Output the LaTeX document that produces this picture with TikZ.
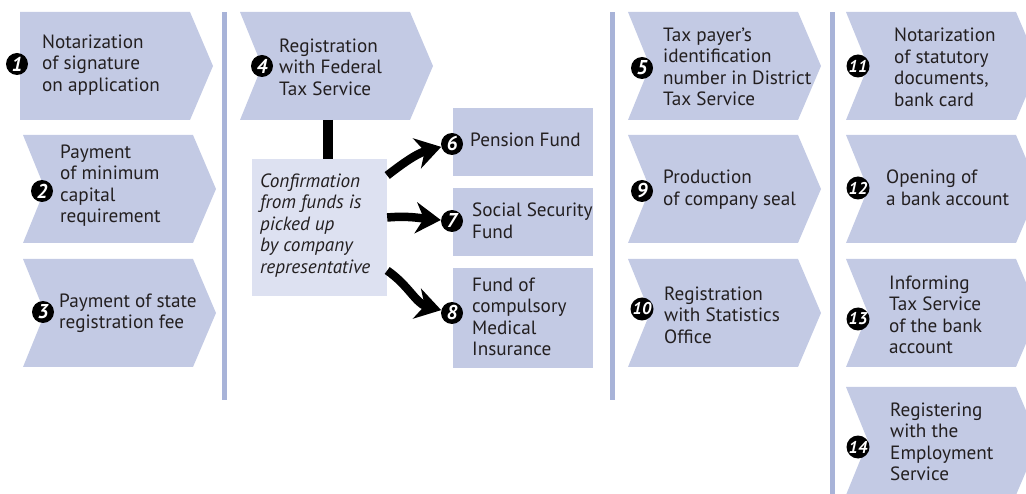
\documentclass[tikz,border=0pt]{standalone}
\usepackage{fontspec}
\setmainfont{PT Sans}
\usetikzlibrary{arrows.meta}
\definecolor{chevc}{RGB}{195,202,228}
\definecolor{confc}{RGB}{221,225,241}
\definecolor{barc}{RGB}{168,179,216}
\definecolor{txtc}{RGB}{35,31,32}
\tikzset{
 chev/.style={fill=chevc},
 txt/.style={anchor=west, inner sep=0pt, align=left, text=txtc, font=\fontsize{19.2}{21.5}\selectfont},
 itxt/.style={txt, font=\fontsize{19.2}{21.5}\selectfont\itshape},
 num/.style={circle, fill=black, text=white, inner sep=0pt, minimum size=22pt, font=\fontsize{20}{20}\selectfont\bfseries\itshape},
 num2/.style={num, minimum size=23pt, font=\fontsize{17}{17}\selectfont\bfseries\itshape},
 bar/.style={fill=barc},
 fundbox/.style={fill=chevc, inner sep=0pt, minimum width=140pt},
 bigarrow/.style={line width=8.5pt, -{Stealth[length=25pt,width=31pt,inset=8pt]}},
}
\newcommand\mychev[4]{\fill[chev] (#1,-#2) -- ({#1+170},-#2) -- ({#1+193},{-(#2+#3)/2}) -- ({#1+170},-#3) -- (#1,-#3) -- ({#1+#4},{-(#2+#3)/2}) -- cycle;}
\begin{document}
\begin{tikzpicture}[x=1pt,y=1pt]
\useasboundingbox (0,0) rectangle (1026,-494);
\clip (0,0) rectangle (1026,-494);
% vertical bars
\fill[bar] (222,-12) rectangle (227,-400);
\fill[bar] (610,-12) rectangle (615,-400);
\fill[bar] (830,-12) rectangle (835,-494);
% chevrons
\mychev{20}{12}{120}{0}
\mychev{23}{135}{243}{22}
\mychev{23}{259}{367}{22}
\mychev{240}{12}{120}{22}
\mychev{628}{12}{120}{22}
\mychev{628}{135}{243}{22}
\mychev{628}{259}{367}{22}
\mychev{846}{12}{120}{22}
\mychev{846}{135}{243}{22}
\mychev{846}{259}{367}{22}
\mychev{846}{387}{495}{22}
% texts in chevrons
\node[txt] (t1) at (42,-65) {Notarization\\of signature\\on application};
\node[txt] (t2) at (60,-185.5) {Payment\\of minimum\\capital\\requirement};
\node[txt] (t3) at (59,-313) {Payment of state\\registration fee};
\node[txt] (t4) at (279,-67) {Registration\\with Federal\\Tax Service};
\node[txt] (t5) at (663,-67) {Tax payer’s\\identification\\number in District\\Tax Service};
\node[txt] (t9) at (663,-189.5) {Production\\of company seal};
\node[txt] (t10) at (664,-315) {Registration\\with Statistics\\Office};
\node[txt] (t11) at (894,-67.5) {Notarization\\of statutory\\documents,\\bank card};
\node[txt] (t12) at (886,-188) {Opening of\\a bank account};
\node[txt] (t13) at (889,-315) {Informing\\Tax Service\\of the bank\\account};
\node[txt] (t14) at (890,-442) {Registering\\with the\\Employment\\Service};
% confirmation box
\node[fill=confc, minimum width=135pt, minimum height=137pt, inner sep=0pt] (confbox) at (319.5,-227.5) {};
\node[itxt] (conftxt) at (260,-225.5) {Confirmation\\from funds is\\picked up\\by company\\representative};
\coordinate (c4) at (328,-120);
\draw[line width=10pt, black] (c4) -- (c4 |- confbox.north);
% fund boxes
\node[fundbox, minimum height=68pt] (b6) at (523,-142) {};
\node[fundbox, minimum height=68pt] (b7) at (523,-222) {};
\node[fundbox, minimum height=100pt] (b8) at (523,-318) {};
\node[txt] (t6) at (470,-140) {Pension Fund};
\node[txt] (t7) at (472,-221) {Social Security\\Fund};
\node[txt] (t8) at (472,-317) {Fund of\\compulsory\\Medical\\Insurance};
% number badges
\node[num] (n6) at (452,-144) {6};
\node[num] (n7) at (452,-221) {7};
\node[num] (n8) at (452,-313) {8};
% arrows
\draw[bigarrow] ([yshift=52pt]confbox.east) to[out=38,in=195] (n6);
\draw[bigarrow] ([yshift=10pt]confbox.east) to[out=5,in=175] (n7);
\draw[bigarrow] ([yshift=-43pt]confbox.east) to[out=-35,in=165] (n8);
\node[num] (n1) at (17,-64) {1};
\node[num] (n2) at (42,-191) {2};
\node[num] (n3) at (43,-312) {3};
\node[num] (n4) at (262,-66) {4};
\node[num] (n5) at (642,-68) {5};
\node[num] (n9) at (642,-191) {9};
\node[num2] (n10) at (642,-309) {10};
\node[num2] (n11) at (858,-66) {11};
\node[num2] (n12) at (858,-188) {12};
\node[num2] (n13) at (858,-319) {13};
\node[num2] (n14) at (858,-447) {14};
\end{tikzpicture}
\end{document}
